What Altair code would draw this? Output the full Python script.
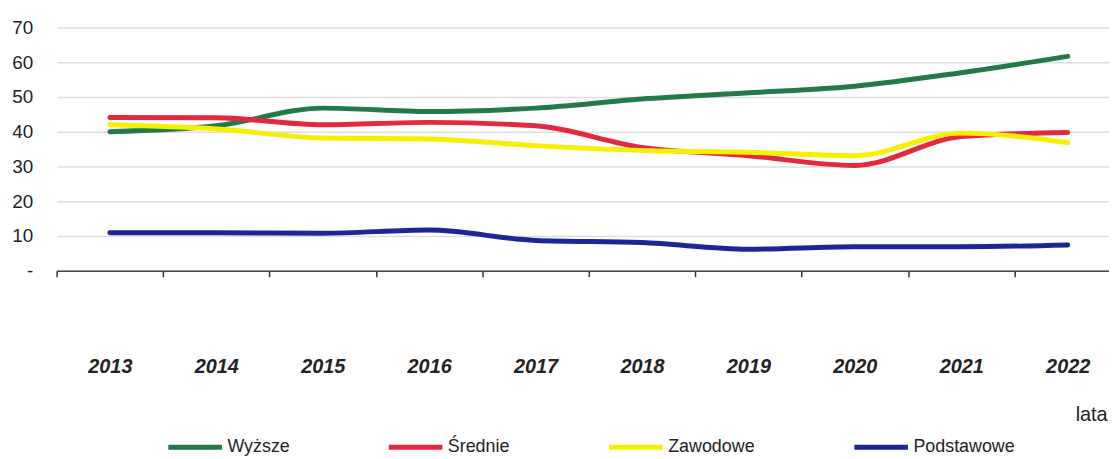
import altair as alt
import pandas as pd

years = ["2013", "2014", "2015", "2016", "2017", "2018", "2019", "2020", "2021", "2022"]
wyzsze = [40.0, 41.7, 46.8, 45.8, 46.8, 49.4, 51.2, 53.1, 57.0, 61.7]
srednie = [44.1, 44.0, 42.0, 42.7, 41.7, 35.5, 33.1, 30.3, 38.6, 39.8]
zawodowe = [42.0, 40.8, 38.2, 37.9, 36.0, 34.6, 34.1, 33.1, 39.6, 36.9]
podstawowe = [10.9, 10.9, 10.8, 11.7, 8.7, 8.1, 6.2, 6.9, 6.9, 7.4]

series_names = ["Wyższe", "Średnie", "Zawodowe", "Podstawowe"]
series_values = [wyzsze, srednie, zawodowe, podstawowe]
series_colors = ["#237a48", "#e4283f", "#f7f000", "#1c2696"]

rows = []
for si, (name, vals) in enumerate(zip(series_names, series_values)):
    for y, v in zip(years, vals):
        rows.append({"rok": y, "wartosc": v, "seria": name, "kolejnosc": si})
df = pd.DataFrame(rows)

FONT = "Liberation Sans"

chart = alt.Chart(df).mark_line(
    strokeWidth=5, interpolate="monotone", strokeCap="round"
).encode(
    x=alt.X(
        "rok:O",
        sort=years,
        scale=alt.Scale(type="band", range=[0, 1072], paddingInner=0, paddingOuter=0),
        axis=alt.Axis(
            title="lata",
            titleX=1042,
            titleY=151,
            titleAlign="center",
            titleBaseline="alphabetic",
            titleFont=FONT,
            titleFontSize=20,
            titleFontWeight="normal",
            titleColor="#222222",
            labelAngle=0,
            labelFont=FONT,
            labelFontSize=20,
            labelFontWeight="bold",
            labelFontStyle="italic",
            labelColor="#222222",
            labelPadding=81,
            tickBand="extent",
            tickSize=6,
            tickColor="#333333",
            tickWidth=1.5,
            domainColor="#444444",
            domainWidth=1.5,
            grid=False,
        ),
    ),
    y=alt.Y(
        "wartosc:Q",
        scale=alt.Scale(domain=[0, 70], nice=False, zero=True),
        axis=alt.Axis(
            title=None,
            values=[0, 10, 20, 30, 40, 50, 60, 70],
            labelExpr="datum.value == 0 ? '-' : datum.label",
            labelFont=FONT,
            labelFontSize=19,
            labelColor="#222222",
            labelPadding=24,
            domain=False,
            ticks=False,
            grid=True,
            gridColor="#dedede",
            gridWidth=1.5,
        ),
    ),
    color=alt.Color(
        "seria:N",
        sort=series_names,
        scale=alt.Scale(domain=series_names, range=series_colors),
        legend=alt.Legend(
            title=None,
            orient="none",
            legendX=110,
            legendY=393,
            direction="horizontal",
            symbolType="stroke",
            symbolSize=2916,
            symbolStrokeWidth=5,
            labelFont=FONT,
            labelFontSize=18,
            labelColor="#222222",
            labelOffset=3,
            columnPadding=89,
        ),
    ),
    order=alt.Order("kolejnosc:Q"),
).properties(
    width=1060,
    height=245,
    autosize=alt.AutoSizeParams(type="none"),
    padding={"left": 49, "top": 18, "right": 0, "bottom": 188},
).configure_view(stroke=None)

chart.save("out.html", embed_options={"renderer": "svg", "actions": False})
